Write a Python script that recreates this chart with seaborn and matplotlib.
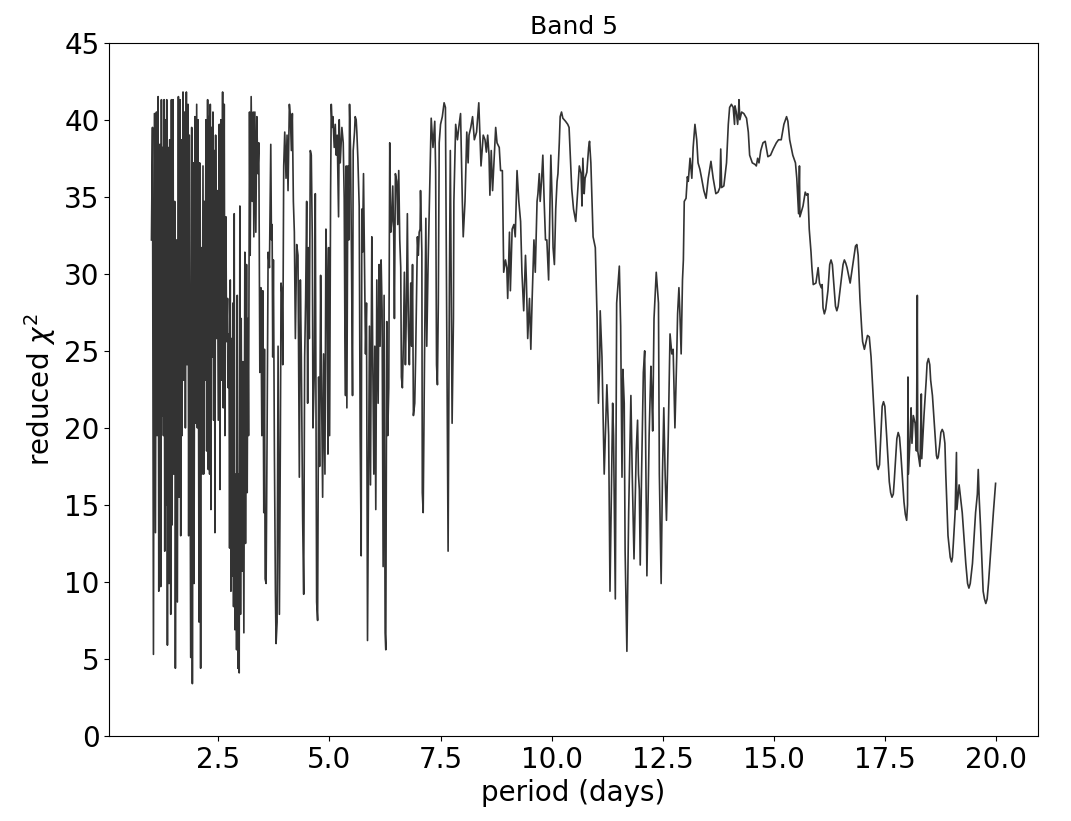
import numpy as np
import pandas as pd
import matplotlib
matplotlib.use("Agg")
import matplotlib.pyplot as plt
import seaborn as sns

# ---- data (period in days, reduced chi^2) ----
period_a = [1.000,1.023,1.045,1.067,1.090,1.112,1.127,1.150,1.165,1.187,
            1.209,1.224,1.239,1.254,1.269,1.284,1.299,1.314,1.329,1.344,
            1.359,1.374,1.396,1.411,1.434,1.449,1.464,1.486,1.501,1.523,
            1.538,1.561,1.583,1.606,1.621,1.643,1.658,1.673,1.688,1.710,
            1.725,1.748,1.763,1.785,1.800,1.822,1.837,1.852,1.882,1.905,
            1.920,1.942,1.957,1.979,1.994,2.017,2.032,2.047,2.069,2.084,
            2.106,2.121,2.136,2.159,2.174,2.189,2.204,2.226,2.241,2.263,
            2.278,2.293,2.308,2.323,2.338,2.353,2.368,2.383,2.398,2.413,
            2.428,2.443,2.458,2.480,2.503,2.525,2.540,2.562,2.577,2.600,
            2.615,2.637,2.652,2.674,2.689,2.712,2.727,2.742,2.757,2.772,
            2.787,2.801,2.816,2.831,2.846,2.861,2.876,2.899,2.914,2.929,
            2.944,2.958,2.973,2.988,3.003,3.018,3.041,3.056,3.078,3.100,
            3.115,3.138,3.153,3.168,3.183,3.205,3.220,3.242,3.265,3.287,
            3.302,3.325,3.347,3.369,3.392,3.414,3.437,3.459,3.482,3.504,
            3.526,3.541,3.556]
chi2_a = [32.2,39.5,5.3,40.4,13.2,40.5,19.5,41.5,9.4,38.4,
          9.7,41.3,20.8,38.2,19.5,41.3,12.0,40.0,15.0,41.3,
          5.9,38.2,9.9,38.7,7.9,41.3,13.7,41.3,17.0,34.7,
          4.4,32.2,8.7,41.5,15.5,41.3,13.0,38.7,19.5,41.8,
          23.1,40.5,20.0,41.8,24.1,41.0,13.0,39.0,5.1,39.5,
          3.4,37.2,9.9,40.2,20.3,41.0,20.0,40.0,7.4,37.2,
          4.4,31.7,17.0,37.0,17.0,34.7,23.1,40.0,18.5,41.3,
          17.3,40.2,17.0,41.0,14.7,39.5,24.6,40.5,20.5,38.0,
          13.2,39.0,25.8,35.4,20.5,39.7,16.0,40.0,23.1,41.8,
          21.3,41.0,19.5,33.7,25.6,28.4,22.6,26.1,12.2,29.6,
          9.4,25.8,10.4,28.1,8.4,33.9,6.9,17.0,5.6,28.6,
          4.4,17.0,4.1,34.4,7.9,27.1,10.7,24.3,6.7,31.4,
          12.5,30.6,15.8,27.1,19.5,40.5,31.2,41.5,34.7,40.5,
          32.4,40.5,32.7,40.2,36.5,38.5,23.6,29.1,19.5,28.9,
          14.5,25.1,10.2]

period_b = [3.578,3.600,3.623,3.653,3.683,3.698,3.713,3.727,3.742,3.765,
            3.787,3.802,3.825,3.847,3.877,3.899,3.914,3.937,3.952,3.974,
            3.997,4.026,4.049,4.071,4.101,4.124,4.146,4.168,4.191,4.213,
            4.236,4.266,4.295,4.325,4.348,4.370,4.400,4.423,4.445,4.467,
            4.490,4.512,4.527,4.550,4.572,4.594,4.617,4.632,4.662,4.684,
            4.714,4.736,4.759,4.781,4.804,4.826,4.849,4.871,4.901,4.923,
            4.946,4.968,4.983,5.006,5.028,5.043,5.065,5.080,5.110,5.133,
            5.155,5.177,5.207,5.222,5.245,5.282,5.312,5.334,5.349,5.364,
            5.379,5.394,5.417,5.439,5.454,5.476,5.499,5.521,5.536,5.566,
            5.581,5.603,5.618,5.641,5.671,5.693,5.716,5.730,5.745,5.768,
            5.790,5.813,5.835,5.858,5.880,5.902,5.925,5.955,5.977,6.000,
            6.022,6.044,6.067,6.097,6.119,6.141,6.164,6.186,6.209,6.231,
            6.254,6.269,6.291,6.313,6.336,6.358,6.381,6.403,6.426,6.448,
            6.463,6.485,6.515,6.538,6.560,6.583,6.605,6.620,6.642,6.665,
            6.687,6.710,6.732,6.754,6.777,6.799]
chi2_b = [9.9,19.5,31.4,30.4,38.4,32.2,33.2,24.6,30.9,18.3,
          9.4,6.0,7.4,25.3,7.9,19.5,29.4,28.6,24.1,37.0,
          39.2,36.2,39.0,35.4,41.0,40.2,38.0,40.4,34.7,32.7,
          25.8,31.9,31.2,16.8,29.6,24.6,14.0,9.2,24.6,28.4,
          34.7,21.6,31.7,25.8,38.0,37.7,32.2,20.0,23.6,35.2,
          8.7,7.5,23.3,17.5,29.9,22.1,15.5,24.8,17.0,32.9,
          29.6,18.3,31.7,19.5,35.4,41.0,39.5,40.2,38.2,39.7,
          37.7,39.0,33.7,40.0,37.2,39.5,38.5,34.9,26.6,22.1,
          37.0,21.3,37.0,32.2,41.0,38.0,30.6,22.1,38.0,39.2,
          40.2,40.0,39.2,37.5,34.4,19.5,11.7,34.2,31.4,36.5,
          30.6,24.8,28.1,6.2,17.0,26.6,16.3,32.4,24.1,17.0,
          25.3,14.7,29.6,21.6,30.6,25.3,30.9,27.6,11.0,28.6,
          6.7,5.6,26.9,19.5,22.6,38.5,32.7,33.4,35.7,32.4,
          27.1,36.5,36.0,33.2,36.7,32.2,30.4,23.3,22.6,25.6,
          30.1,24.1,27.6,33.9,26.6,24.1]

period_c = [6.83,6.85,6.87,6.89,6.92,6.94,6.98,7.00,7.02,7.04,
            7.05,7.08,7.09,7.11,7.14,7.17,7.19,7.22,7.25,7.29,
            7.33,7.37,7.39,7.41,7.43,7.45,7.47,7.50,7.54,7.58,
            7.61,7.64,7.67,7.70,7.72,7.74,7.76,7.79,7.80,7.84,
            7.88,7.91,7.95,7.99,8.01,8.05,8.09,8.12,8.14,8.18,
            8.22,8.26,8.31,8.36,8.41,8.46,8.50,8.53,8.56,8.59,
            8.61,8.64,8.67,8.70,8.74,8.77,8.82,8.85,8.89,8.92,
            8.96,8.99,9.01,9.05,9.07,9.11,9.15,9.18,9.22,9.26,
            9.30,9.33,9.37,9.41,9.43,9.46,9.50,9.53,9.56,9.60,
            9.63,9.67,9.69,9.72,9.74,9.77,9.80,9.83,9.86,9.89,
            9.93,9.96,9.98,10.01,10.03,10.06,10.09,10.12,10.14,10.17,
            10.19,10.22,10.25,10.31,10.36,10.39,10.42,10.45,10.49,10.54,
            10.58,10.62,10.66,10.68,10.70,10.73,10.75,10.79,10.83,10.85,
            10.88,10.93,10.98,11.02,11.05,11.08]
chi2_c = [29.4,25.3,30.6,20.8,21.6,24.6,32.4,31.2,32.7,32.9,
          35.4,31.4,15.8,14.5,24.6,33.6,25.3,30.6,34.7,40.1,
          38.2,39.9,36.7,24.1,22.8,28.1,38.5,39.7,40.2,41.1,
          40.8,25.8,12.0,29.6,38.0,29.6,20.3,27.1,34.7,39.7,
          38.7,39.5,40.4,34.7,32.4,34.7,39.2,37.2,39.0,39.5,
          40.2,38.7,39.2,41.1,37.0,39.0,38.7,37.9,39.0,37.7,
          35.1,38.0,35.4,37.2,39.5,38.5,38.2,36.7,36.7,30.1,
          30.9,30.4,28.4,32.7,28.9,32.9,33.2,32.4,36.7,34.7,
          33.4,30.1,27.6,31.2,29.6,25.8,28.4,25.1,28.4,32.2,
          30.1,34.7,35.2,36.5,34.7,36.0,37.7,34.7,32.2,32.2,
          29.6,34.7,37.7,34.7,31.7,30.6,34.2,36.0,36.5,38.5,
          40.2,40.5,40.1,39.9,39.7,39.5,37.5,35.5,34.2,33.4,
          35.2,37.0,36.5,34.4,37.5,35.2,36.2,36.6,38.2,38.6,
          37.2,32.4,31.7,27.1,21.6,24.6]

period_d = [11.09,11.13,11.18,11.24,11.28,11.31,11.37,11.39,11.43,11.46,
            11.52,11.55,11.58,11.60,11.63,11.65,11.69,11.73,11.78,11.81,
            11.85,11.90,11.93,11.95,11.97,11.99,12.02,12.06,12.09,12.11,
            12.14,12.19,12.23,12.25,12.27,12.30,12.35,12.40,12.42,12.46,
            12.49,12.52,12.55,12.58,12.62,12.66,12.70,12.73,12.77,12.81,
            12.83,12.86,12.88,12.91,12.94,12.96,12.98,13.02,13.05,13.07,
            13.11,13.15,13.18,13.22,13.26,13.29,13.33,13.37,13.42,13.47,
            13.52,13.58,13.63,13.69,13.74,13.78,13.80,13.82,13.87,13.93,
            13.97,14.00,14.04,14.08,14.11,14.12,14.15,14.18,14.20,14.21,
            14.23,14.27,14.32,14.38,14.42,14.45,14.51,14.57,14.60,14.63,
            14.66,14.70,14.75,14.80,14.86,14.92,14.98,15.05,15.10,15.16,
            15.22,15.28,15.31,15.35,15.42,15.48,15.51,15.55,15.57]
chi2_d = [27.6,24.6,17.0,22.8,19.5,9.4,21.6,19.5,8.9,28.1,
          30.5,26.6,16.8,23.8,21.6,12.0,5.5,14.5,22.1,17.0,
          11.5,18.5,20.5,17.0,16.0,11.1,17.0,23.6,25.0,19.5,
          10.4,19.5,24.0,22.1,19.8,27.1,30.1,28.1,17.0,9.9,
          17.0,21.3,17.0,14.0,19.5,26.1,24.8,25.1,20.0,24.6,
          27.4,29.1,27.6,24.8,29.6,30.9,34.7,34.9,36.3,36.0,
          37.5,36.2,38.2,39.7,38.7,37.2,36.8,36.2,35.4,34.9,
          36.2,37.3,36.2,35.2,35.3,35.6,38.1,35.6,35.7,37.2,
          39.7,40.8,41.0,40.8,39.7,40.9,40.5,39.7,40.5,41.3,
          40.0,40.5,40.4,40.1,39.2,37.7,37.2,37.1,37.0,37.5,
          37.2,38.0,38.5,38.6,37.6,37.7,38.1,38.5,38.7,38.7,
          39.7,40.2,39.9,38.7,37.7,37.2,36.2,33.9,37.0]

period_e = [15.58,15.65,15.70,15.73,15.76,15.79,15.83,15.85,15.88,15.94,
            15.99,16.02,16.06,16.08,16.10,16.13,16.16,16.21,16.25,16.28,
            16.31,16.35,16.38,16.41,16.44,16.48,16.55,16.58,16.61,16.64,
            16.71,16.77,16.83,16.86,16.89,16.93,16.97,16.99,17.03,17.10,
            17.14,17.18,17.25,17.31,17.34,17.37,17.40,17.43,17.46,17.49,
            17.53,17.59,17.62,17.65,17.68,17.70,17.74,17.76,17.79,17.82,
            17.85,17.92,17.95,17.98,18.00,18.01,18.02,18.06,18.08,18.10,
            18.13,18.17,18.20,18.22,18.23,18.28,18.31,18.32,18.37,18.42,
            18.44,18.47,18.50,18.52,18.56,18.63,18.65,18.67,18.69,18.72,
            18.75,18.78,18.81,18.84,18.86,18.91,18.96,18.99,19.01,19.03,
            19.07,19.10,19.11,19.16,19.23,19.31,19.35,19.38,19.41,19.46,
            19.53,19.57,19.59,19.61,19.64,19.70,19.73,19.76,19.79,19.82,
            19.87,19.93,19.98]
chi2_e = [33.7,34.4,35.3,35.1,35.2,32.9,31.4,30.4,29.3,29.4,
          30.4,29.4,29.1,29.3,27.8,27.4,27.7,28.9,30.6,30.9,
          30.6,29.1,27.9,27.6,27.9,28.9,30.6,30.9,30.7,30.4,
          29.4,30.6,31.8,31.9,31.2,28.4,26.4,25.6,25.1,26.0,
          25.9,24.6,20.8,17.6,17.3,17.6,19.5,21.4,21.7,21.4,
          19.5,16.5,15.8,15.5,15.7,16.5,18.3,19.3,19.7,19.4,
          18.3,15.2,14.4,14.0,15.0,23.3,17.0,19.5,21.3,19.0,
          20.8,20.3,18.5,28.6,18.5,17.5,22.2,18.0,20.8,23.1,
          24.2,24.5,24.1,23.1,22.1,19.0,18.2,18.0,18.1,18.8,
          19.7,19.9,19.7,19.0,17.0,13.0,11.6,11.3,11.6,12.5,
          14.5,18.4,14.7,16.3,14.5,11.2,9.9,9.6,9.9,11.2,
          14.5,15.7,17.3,15.5,13.7,9.4,8.9,8.6,8.9,9.9,
          12.0,14.5,16.4]

# ---- assemble ----
period = np.concatenate([period_a, period_b, period_c, period_d, period_e])
chi2 = np.concatenate([chi2_a, chi2_b, chi2_c, chi2_d, chi2_e])
df = pd.DataFrame({"period": period, "chi2": chi2})

fig = plt.figure(figsize=(10.71, 8.21), dpi=100)
ax = fig.add_axes([0.102, 0.1035, 0.867, 0.8445])
sns.lineplot(data=df, x="period", y="chi2", sort=False, estimator=None,
             color="#333333", linewidth=1.2, ax=ax)
ax.set_ylim(0, 45)
ax.set_yticks(np.arange(0, 46, 5))
ax.set_xlabel("period (days)", fontsize=20)
ax.set_ylabel(r"reduced $\chi^2$", fontsize=20)
ax.set_title("Band 5", fontsize=18)
ax.tick_params(labelsize=20)
fig.savefig("out.png", dpi=100)
